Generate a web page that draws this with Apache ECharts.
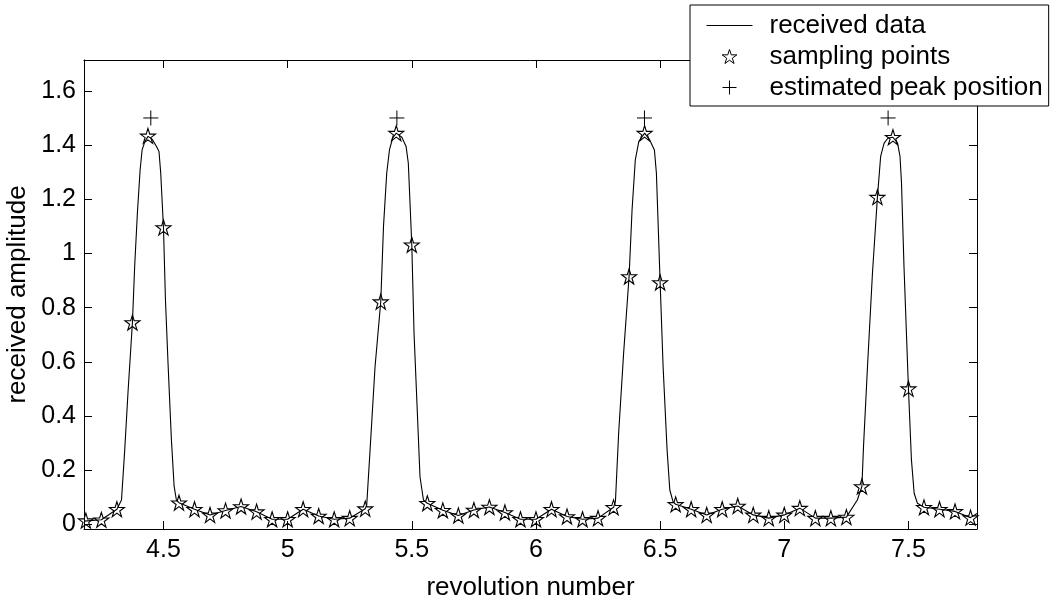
<!doctype html>
<html lang="en">
<head>
    <meta charset="UTF-8">
    <title>received amplitude</title>
    <script src="https://cdn.jsdelivr.net/npm/echarts@6/dist/echarts.min.js"></script>
    <style>
        html, body { margin: 0; padding: 0; background: #fff; }
        #chart { width: 1052px; height: 599px; }
    </style>
</head>
<body>
<div id="chart"></div>
<script>
    // received data (continuous trace)
    var lineX = [4.18, 4.1875, 4.25, 4.3125, 4.331, 4.344, 4.357, 4.375, 4.384, 4.395, 4.406, 4.414, 4.425, 4.438, 4.454, 4.472, 4.482, 4.489, 4.5, 4.508, 4.519, 4.532, 4.543, 4.552, 4.5625,
        4.625, 4.6875, 4.75, 4.8125, 4.875, 4.9375, 5.0, 5.0625, 5.125, 5.1875, 5.25, 5.3125,
        5.3185, 5.332, 5.352, 5.375, 5.386, 5.399, 5.41, 5.423, 5.4375, 5.46, 5.477, 5.486, 5.5, 5.509, 5.523, 5.533, 5.547, 5.5625,
        5.625, 5.6875, 5.75, 5.8125, 5.875, 5.9375, 6.0, 6.0625, 6.125, 6.1875, 6.25, 6.3125,
        6.32, 6.333, 6.353, 6.375, 6.387, 6.4, 6.414, 6.4375, 6.458, 6.477, 6.485, 6.5, 6.512, 6.528, 6.539, 6.552, 6.5625,
        6.625, 6.6875, 6.75, 6.8125, 6.875, 6.9375, 7.0, 7.0625, 7.125, 7.1875, 7.25,
        7.294, 7.3125, 7.319, 7.335, 7.355, 7.375, 7.388, 7.402, 7.418, 7.4375, 7.456, 7.466, 7.472, 7.482, 7.5, 7.512, 7.523, 7.536, 7.5625,
        7.625, 7.6875, 7.75, 7.776];
    var lineY = [0.012, 0.014, 0.017, 0.056, 0.09, 0.275, 0.484, 0.745, 0.952, 1.149, 1.309, 1.382, 1.413, 1.432, 1.422, 1.395, 1.376, 1.296, 1.096, 0.829, 0.582, 0.312, 0.14, 0.09, 0.08,
        0.056, 0.035, 0.051, 0.066, 0.047, 0.019, 0.019, 0.056, 0.031, 0.019, 0.023, 0.058,
        0.072, 0.275, 0.582, 0.822, 1.099, 1.296, 1.382, 1.426, 1.444, 1.429, 1.395, 1.333, 1.032, 0.706, 0.398, 0.176, 0.09, 0.078,
        0.052, 0.033, 0.053, 0.064, 0.044, 0.019, 0.019, 0.056, 0.029, 0.019, 0.023, 0.063,
        0.084, 0.337, 0.632, 0.915, 1.161, 1.345, 1.413, 1.444, 1.419, 1.382, 1.296, 0.893, 0.582, 0.275, 0.127, 0.084, 0.074,
        0.056, 0.035, 0.056, 0.068, 0.035, 0.023, 0.035, 0.06, 0.023, 0.023, 0.027,
        0.09, 0.14, 0.287, 0.582, 0.927, 1.208, 1.358, 1.407, 1.426, 1.429, 1.407, 1.358, 1.26, 0.952, 0.501, 0.238, 0.115, 0.078, 0.063,
        0.056, 0.048, 0.025, 0.04];

    // sampling points
    var sampleX = [4.1875, 4.25, 4.3125, 4.375, 4.4375, 4.5, 4.5625, 4.625, 4.6875, 4.75, 4.8125, 4.875, 4.9375, 5.0, 5.0625, 5.125, 5.1875, 5.25, 5.3125,
        5.375, 5.4375, 5.5, 5.5625, 5.625, 5.6875, 5.75, 5.8125, 5.875, 5.9375, 6.0, 6.0625, 6.125, 6.1875, 6.25, 6.3125,
        6.375, 6.4375, 6.5, 6.5625, 6.625, 6.6875, 6.75, 6.8125, 6.875, 6.9375, 7.0, 7.0625, 7.125, 7.1875, 7.25, 7.3125,
        7.375, 7.4375, 7.5, 7.5625, 7.625, 7.6875, 7.75];
    var sampleY = [0.014, 0.017, 0.056, 0.745, 1.434, 1.096, 0.08, 0.056, 0.035, 0.051, 0.066, 0.047, 0.019, 0.019, 0.056, 0.031, 0.019, 0.023, 0.058,
        0.822, 1.444, 1.032, 0.078, 0.052, 0.033, 0.053, 0.064, 0.044, 0.019, 0.019, 0.056, 0.029, 0.019, 0.023, 0.063,
        0.915, 1.444, 0.893, 0.074, 0.056, 0.035, 0.056, 0.068, 0.035, 0.023, 0.035, 0.06, 0.023, 0.023, 0.027, 0.14,
        1.208, 1.429, 0.501, 0.063, 0.056, 0.048, 0.025];

    // estimated peak position
    var peakX = [4.449, 5.44, 6.437, 7.418];
    var peakY = [1.5, 1.5, 1.5, 1.5];

    var xRange = [4.18, 7.776];
    var yRange = [-0.017, 1.714];
    var xStep = 0.5, yStep = 0.2;

    function zip(xs, ys) {
        var out = [];
        for (var i = 0; i < xs.length; i++) out.push([xs[i], ys[i]]);
        return out;
    }
    function onStep(step) {
        return function (v) {
            var r = v / step;
            if (Math.abs(r - Math.round(r)) > 1e-6) return '';
            return String(+v.toFixed(2));
        };
    }

    var FONT = "'Liberation Sans', Arial, Helvetica, sans-serif";
    // marker outlines drawn at about pixel size so the stroke stays thin
    var starPath = 'path://M0,-7L1.57,-2.16L6.66,-2.16L2.54,0.83L4.12,5.66L0,2.67L-4.12,5.66L-2.54,0.83L-6.66,-2.16L-1.57,-2.16Z';
    var plusPath = 'path://M0,-7L0,7M-7,0L7,0';
    var linePath = 'path://M0,0M0,14M0,7L46,7';

    var axisLine = { show: true, onZero: false, lineStyle: { color: '#000', width: 1 } };
    var tickIn = { show: true, inside: true, length: 8, lineStyle: { color: '#000', width: 1 } };

    var chart = echarts.init(document.getElementById('chart'));
    chart.setOption({
        backgroundColor: '#fff',
        animation: false,
        textStyle: { fontFamily: FONT },
        grid: { left: 84, right: 75, top: 60, bottom: 70, containLabel: false, outerBoundsMode: 'none' },
        legend: {
            left: 690,
            top: 5,
            orient: 'vertical',
            backgroundColor: '#fff',
            borderColor: '#000',
            borderWidth: 1,
            padding: [7, 6, 5, 16],
            itemWidth: 46,
            itemHeight: 14,
            itemGap: 4,
            selectedMode: false,
            textStyle: { fontFamily: FONT, fontSize: 26, color: '#000', lineHeight: 27, padding: [0, 0, 0, 12] },
            data: [
                { name: 'received data', icon: linePath, itemStyle: { color: 'rgba(0,0,0,0)', borderColor: '#000', borderWidth: 1 } },
                { name: 'sampling points', icon: starPath, itemStyle: { color: 'rgba(255,255,255,0)', borderColor: '#000', borderWidth: 1 } },
                { name: 'estimated peak position', icon: plusPath, itemStyle: { color: 'rgba(255,255,255,0)', borderColor: '#000', borderWidth: 1 } }
            ],
            z: 10
        },
        xAxis: [{
            type: 'value',
            position: 'bottom',
            min: xRange[0], max: xRange[1],
            minInterval: xStep, maxInterval: xStep,
            name: 'revolution number',
            nameLocation: 'middle',
            nameGap: 46,
            nameTextStyle: { fontFamily: FONT, fontSize: 26, color: '#000' },
            axisLine: axisLine,
            axisTick: tickIn,
            splitLine: { show: false },
            axisLabel: { fontFamily: FONT, fontSize: 25, color: '#000', margin: 9, showMinLabel: false, showMaxLabel: false, formatter: onStep(xStep) }
        }, {
            type: 'value',
            position: 'top',
            min: xRange[0], max: xRange[1],
            minInterval: xStep, maxInterval: xStep,
            axisLine: axisLine,
            axisTick: tickIn,
            splitLine: { show: false },
            axisLabel: { show: false }
        }],
        yAxis: [{
            type: 'value',
            position: 'left',
            min: yRange[0], max: yRange[1],
            minInterval: yStep, maxInterval: yStep,
            name: 'received amplitude',
            nameLocation: 'middle',
            nameGap: 46,
            nameTextStyle: { fontFamily: FONT, fontSize: 26, color: '#000' },
            axisLine: axisLine,
            axisTick: tickIn,
            splitLine: { show: false },
            axisLabel: { fontFamily: FONT, fontSize: 25, color: '#000', margin: 8, showMinLabel: false, showMaxLabel: false, formatter: onStep(yStep) }
        }, {
            type: 'value',
            position: 'right',
            min: yRange[0], max: yRange[1],
            minInterval: yStep, maxInterval: yStep,
            axisLine: axisLine,
            axisTick: tickIn,
            splitLine: { show: false },
            axisLabel: { show: false }
        }],
        series: [{
            name: 'received data',
            type: 'line',
            data: zip(lineX, lineY),
            symbol: 'none',
            showSymbol: false,
            clip: true,
            lineStyle: { color: '#000', width: 1.1 },
            itemStyle: { color: '#000', borderColor: '#000' },
            emphasis: { disabled: true }
        }, {
            name: 'sampling points',
            type: 'scatter',
            data: zip(sampleX, sampleY),
            symbol: starPath,
            symbolSize: [15, 15],
            clip: true,
            itemStyle: { color: 'rgba(255,255,255,0)', borderColor: '#000', borderWidth: 1.1, opacity: 1 },
            emphasis: { disabled: true }
        }, {
            name: 'estimated peak position',
            type: 'scatter',
            data: zip(peakX, peakY),
            symbol: plusPath,
            symbolSize: [15, 15],
            itemStyle: { color: 'rgba(255,255,255,0)', borderColor: '#000', borderWidth: 1, opacity: 1 },
            emphasis: { disabled: true }
        }]
    });
</script>
</body>
</html>
